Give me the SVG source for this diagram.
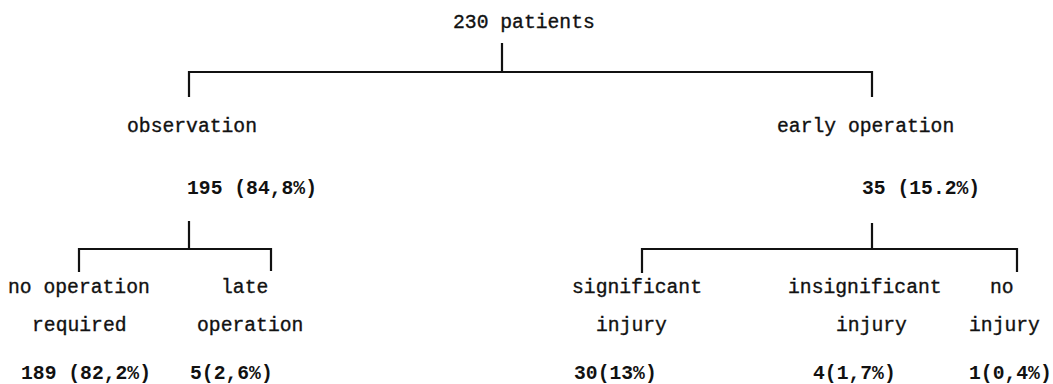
<svg xmlns="http://www.w3.org/2000/svg" width="1053" height="384" viewBox="0 0 1053 384">
<style>
text{font-family:"Liberation Mono","Courier New",monospace;font-size:19.7px;fill:#111;stroke:#111;stroke-width:0.35}
.n{font-weight:bold;stroke-width:0}
.c{stroke:#111;stroke-width:2.2;fill:none}
</style>
<rect width="1053" height="384" fill="#fff"/>
<g id="connectors">
<path class="c" d="M502 43V72M189 97V72H872V97"/>
<path class="c" d="M189 221V249M79 272V249H271V271"/>
<path class="c" d="M872 223V249M642 273V249H1017V272"/>
</g>
<g id="root"><text x="453" y="28">230 patients</text></g>
<g id="observation"><text x="127" y="132">observation</text><text class="n" x="187" y="194">195 (84,8%)</text></g>
<g id="early-operation"><text x="777" y="132">early operation</text><text class="n" x="862" y="194">35 (15.2%)</text></g>
<g id="no-operation"><text x="8" y="293">no operation</text><text x="32" y="331">required</text><text class="n" x="21" y="379">189 (82,2%)</text></g>
<g id="late-operation"><text x="221" y="293">late</text><text x="197" y="331">operation</text><text class="n" x="190" y="379">5(2,6%)</text></g>
<g id="significant"><text x="572" y="293">significant</text><text x="596" y="331">injury</text><text class="n" x="574" y="379">30(13%)</text></g>
<g id="insignificant"><text x="788" y="293">insignificant</text><text x="836" y="331">injury</text><text class="n" x="813" y="379">4(1,7%)</text></g>
<g id="no-injury"><text x="990" y="293">no</text><text x="969" y="331">injury</text><text class="n" x="969" y="379">1(0,4%)</text></g>
</svg>
